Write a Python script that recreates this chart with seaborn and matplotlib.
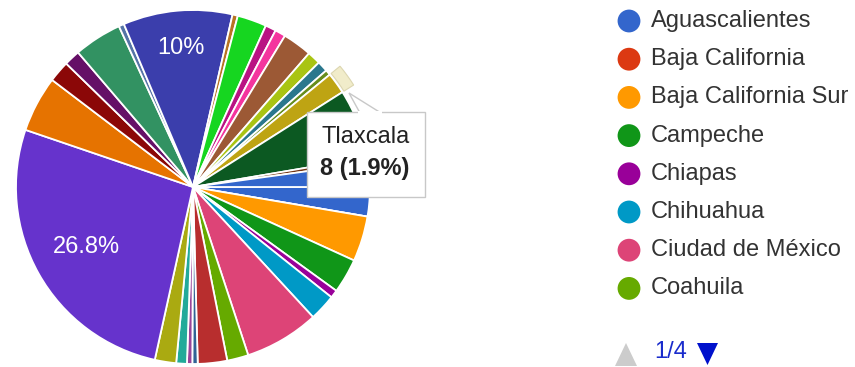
import matplotlib
matplotlib.use("Agg")
import numpy as np
import matplotlib.pyplot as plt
import seaborn as sns
from matplotlib.patches import Wedge, Polygon, Rectangle

sns.set_theme(style="white")
plt.rcParams["font.family"] = ["Liberation Sans", "DejaVu Sans"]

# Registros por entidad federativa
states = [
    "Aguascalientes", "Baja California", "Baja California Sur", "Campeche",
    "Chiapas", "Chihuahua", "Ciudad de México", "Coahuila", "Colima",
    "Durango", "Guanajuato", "Guerrero", "Hidalgo", "Jalisco", "México",
    "Michoacán", "Morelos", "Nayarit", "Nuevo León", "Oaxaca", "Puebla",
    "Querétaro", "Quintana Roo", "San Luis Potosí", "Sinaloa", "Sonora",
    "Tabasco", "Tamaulipas", "Tlaxcala", "Veracruz", "Yucatán", "Zacatecas",
]
counts = [
    11, 0, 17, 13, 3, 10, 28, 8, 11, 2, 2, 4, 8, 110, 21, 8,
    6, 18, 2, 41, 2, 11, 4, 4, 11, 5, 4, 2, 8, 26, 2, 9,
]
palette = [
    "#3366cc", "#dc3912", "#ff9900", "#109618", "#990099", "#0099c6",
    "#dd4477", "#66aa00", "#b82e2e", "#316395", "#994499", "#22aa99",
    "#aaaa11", "#6633cc", "#e67300", "#8b0707", "#651067", "#329262",
    "#5574a6", "#3b3eac", "#b77322", "#16d620", "#b91383", "#f4359e",
    "#9c5935", "#a9c413", "#2a778d", "#668d1c", "#bea413", "#0c5922",
    "#743411",
]
highlighted = "Tlaxcala"
legend_page = 1
legend_pages = 4
legend_per_page = 8

colors = sns.color_palette([palette[i % len(palette)] for i in range(len(states))])

W, H = 855, 367
fig = plt.figure(figsize=(W / 100, H / 100), dpi=100)

# pie area (pixel geometry)
cx, cy, R = 193, 187, 177
ax = fig.add_axes([(cx - R) / W, (H - cy - R) / H, 2 * R / W, 2 * R / H])


def pct_label(p):
    if p < 9:
        return ""
    return f"{p:.1f}".rstrip("0").rstrip(".") + "%"


wedges, _, autotexts = ax.pie(
    counts, colors=colors, startangle=0, counterclock=False, radius=1,
    autopct=pct_label, pctdistance=0.74,
    wedgeprops=dict(edgecolor="white", linewidth=1.3),
    textprops=dict(color="white", fontsize=17),
)
ax.set_xlim(-1, 1)
ax.set_ylim(-1, 1)
ax.set_aspect("equal")
ax.axis("off")

# slice labels: narrower slices keep their label nearer the rim
total = sum(counts)
for w, t, c in zip(wedges, autotexts, counts):
    if not t.get_text():
        continue
    mid = np.deg2rad((w.theta1 + w.theta2) / 2)
    r = 0.79 if c / total < 0.15 else 0.69
    t.set_position((r * np.cos(mid), r * np.sin(mid)))
    t.set_ha("center")
    t.set_va("center")

# hover ring on the highlighted slice
hi = states.index(highlighted)
hw = wedges[hi]
ax.add_patch(Wedge((0, 0), 1.075, hw.theta1, hw.theta2, width=0.065,
                   facecolor="#f1ecca", edgecolor="#dcd6b0", linewidth=0.8,
                   clip_on=False, zorder=5))

# overlay in pixel coordinates for tooltip and legend
ov = fig.add_axes([0, 0, 1, 1], zorder=10)
ov.set_xlim(0, W)
ov.set_ylim(H, 0)
ov.axis("off")
ov.patch.set_alpha(0)

# tooltip
ov.add_patch(Polygon([(349, 93), (360, 113), (381, 113)], closed=True,
                     facecolor="white", edgecolor="#c8c8c8", linewidth=1.0))
ov.add_patch(Rectangle((307, 112), 118, 85, facecolor="white",
                       edgecolor="#c8c8c8", linewidth=1.0))
ov.add_patch(Rectangle((358, 111), 24, 3, facecolor="white", edgecolor="none"))
ov.text(321, 137, highlighted, fontsize=17, color="#222222", va="center", ha="left")
ov.text(320, 168, f"{counts[hi]} ({100 * counts[hi] / total:.1f}%)",
        fontsize=17, fontweight="bold", color="#222222", va="center", ha="left")

# legend, first page
start = (legend_page - 1) * legend_per_page
for k, i in enumerate(range(start, start + legend_per_page)):
    y = 21 + 38.2 * k
    ov.scatter([629], [y], s=270, color=colors[i], edgecolor="none")
    ov.text(651, y, states[i], fontsize=17, color="#333333", va="center", ha="left")

# pager
ov.add_patch(Polygon([(615, 366), (626, 343), (637, 366)], closed=True,
                     facecolor="#cccccc", edgecolor="none"))
ov.text(671, 352, f"{legend_page}/{legend_pages}", fontsize=17, color="#1a2ccc",
        va="center", ha="center")
ov.add_patch(Polygon([(697, 343), (718, 343), (707.5, 365)], closed=True,
                     facecolor="#0011cc", edgecolor="none"))

fig.savefig("out.png", dpi=100)
